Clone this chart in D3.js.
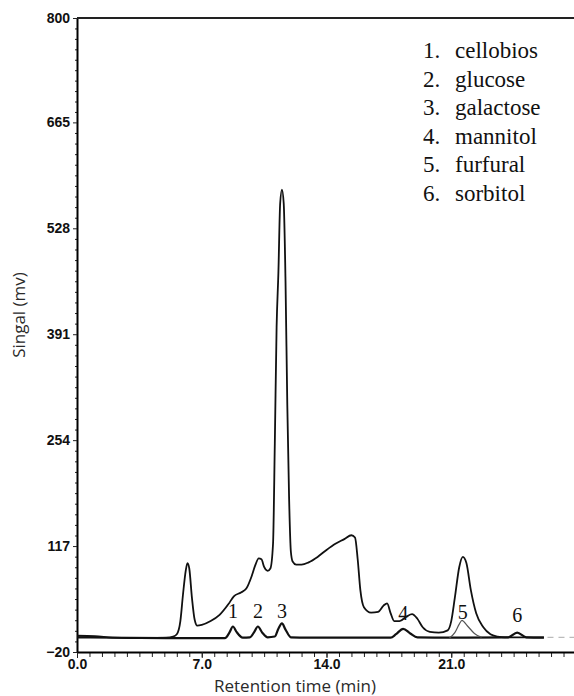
<!DOCTYPE html>
<html>
<head>
<meta charset="utf-8">
<script src="https://cdn.jsdelivr.net/npm/d3@7"></script>
<style>
  body { margin: 0; background: #fff; }
  .axisText { font-family: "Open Sans", Lato, sans-serif; font-size: 17px; fill: #2a2a2a; }
  .legend, .peakLabel { font-family: "Liberation Serif", "Times New Roman", serif; fill: #111; }
</style>
</head>
<body>
<div id="chart"></div>
<script>
// Data
// main sample trace: [time (min), signal (mv)]
var sampleTrace = [
  [0.0, 1], [1.0, 0.5], [2.0, -1.5], [3.0, -2], [4.0, -2], [5.0, -1.5], [5.4, 0],
  [5.6, 3], [5.8, 20], [5.95, 55], [6.1, 85], [6.2, 95], [6.3, 88], [6.45, 50],
  [6.6, 22], [6.75, 14], [7.0, 15], [7.5, 20], [8.0, 28], [8.5, 42], [8.8, 52],
  [9.2, 57], [9.5, 62], [9.8, 78], [10.0, 92], [10.2, 101], [10.35, 100], [10.5, 90],
  [10.7, 85], [10.85, 88], [11.0, 120], [11.1, 250], [11.2, 400], [11.3, 470],
  [11.4, 560], [11.5, 578], [11.6, 560], [11.7, 460], [11.8, 300], [11.9, 180],
  [12.0, 110], [12.1, 97], [12.3, 93], [12.6, 93], [13.0, 96], [13.5, 103],
  [14.0, 112], [14.5, 120], [15.0, 126], [15.4, 131], [15.6, 128], [15.75, 100],
  [15.9, 60], [16.1, 38], [16.5, 31], [16.9, 32], [17.2, 40], [17.4, 43], [17.6, 30],
  [17.8, 20], [18.1, 20], [18.5, 26], [18.8, 29], [19.1, 23], [19.4, 12], [19.8, 6],
  [20.3, 5], [20.8, 8], [21.0, 20], [21.2, 50], [21.45, 90], [21.65, 103], [21.85, 95],
  [22.1, 60], [22.4, 30], [22.8, 12], [23.2, 3], [23.6, 0], [24.0, -1], [25.0, -1],
  [26.2, -1]
];

// standards trace (peaks 1-4, 6)
var standardTrace = [
  [0.0, -1], [5.0, -2], [8.3, -2], [8.55, 5], [8.75, 13], [8.95, 6], [9.3, -1.5],
  [9.7, -1], [9.95, 6], [10.15, 13], [10.4, 5], [10.7, -1], [11.1, 0], [11.3, 10],
  [11.5, 17], [11.7, 9], [12.0, -1], [13.0, -1.5], [17.6, -1.5], [17.9, 3], [18.3, 10],
  [18.7, 4], [19.1, -1], [21.0, -1.5], [24.2, -1], [24.7, 5], [25.2, -1], [26.2, -1.5]
];

// furfural standard (thin line, peak 5)
var furfuralTrace = [
  [20.9, -2], [21.2, 5], [21.45, 16], [21.6, 21], [21.9, 14], [22.3, 4], [22.7, -1]
];

var peakNames = ["cellobios", "glucose", "galactose", "mannitol", "furfural", "sorbitol"];
var peakTimes = [8.75, 10.15, 11.5, 18.3, 21.65, 24.7];
var peakLabelValues = [24, 24, 24, 22, 23, 19];

var yTickValues = [-20, 117, 254, 391, 528, 665, 800];
var xTickValues = [0, 7, 14, 21];

// Setup the parameters
var svgWidth = 574;
var svgHeight = 696;
var margin = { top: 18, right: -2, bottom: 44, left: 77 };
var width = svgWidth - margin.left - margin.right;
var height = svgHeight - margin.top - margin.bottom;

var svg = d3.select("#chart")
  .append("svg")
  .attr("width", svgWidth)
  .attr("height", svgHeight);

var chartGroup = svg.append("g")
  .attr("transform", `translate(${margin.left}, ${margin.top})`);

var x = d3.scaleLinear().domain([0, 28]).range([0, width]);
var y = d3.scaleLinear().domain([-20, 800]).range([height, 0]);

// minor ticks: 10 subdivisions between major ticks
var yMinor = [];
for (var i = 0; i < yTickValues.length - 1; i++) {
  var step = (yTickValues[i + 1] - yTickValues[i]) / 10;
  for (var k = 1; k < 10; k++) yMinor.push(yTickValues[i] + k * step);
}
var xMinor = d3.range(0, 28.01, 0.7);

// axes
chartGroup.append("g")
  .attr("transform", `translate(0, ${height})`)
  .call(d3.axisBottom(x).tickValues(xMinor).tickSize(5).tickFormat(""))
  .call(g => g.select(".domain").remove());

var bottomAxis = chartGroup.append("g")
  .attr("transform", `translate(0, ${height})`)
  .call(d3.axisBottom(x).tickValues(xTickValues).tickSize(6).tickSizeOuter(0)
    .tickFormat(d3.format(".1f")));
bottomAxis.select(".domain").attr("stroke-width", 2);
bottomAxis.selectAll(".tick text").attr("y", 7).attr("dy", "0.71em");

chartGroup.append("g")
  .call(d3.axisLeft(y).tickValues(yMinor).tickSize(2).tickFormat(""))
  .call(g => g.select(".domain").remove());

var leftAxis = chartGroup.append("g")
  .call(d3.axisLeft(y).tickValues(yTickValues).tickSize(4).tickSizeOuter(0));
leftAxis.select(".domain").attr("stroke-width", 2);
leftAxis.selectAll(".tick text").attr("x", -7);

chartGroup.selectAll(".tick line").attr("stroke", "#222");
chartGroup.selectAll(".tick text")
  .style("font-family", "'Liberation Sans', Arial, sans-serif")
  .style("font-weight", "bold")
  .style("font-size", "14px")
  .style("fill", "#111");

// top frame line
chartGroup.append("line")
  .attr("x1", 0).attr("x2", width + 2)
  .attr("y1", y(800)).attr("y2", y(800))
  .attr("stroke", "#222").attr("stroke-width", 2);

// traces
var line = d3.line()
  .x(d => x(d[0]))
  .y(d => y(d[1]))
  .curve(d3.curveMonotoneX);

chartGroup.append("path")
  .datum(standardTrace)
  .attr("d", line)
  .attr("fill", "none")
  .attr("stroke", "#111")
  .attr("stroke-width", 2.2);

chartGroup.append("path")
  .datum(furfuralTrace)
  .attr("d", line)
  .attr("fill", "none")
  .attr("stroke", "#555")
  .attr("stroke-width", 1.2);

chartGroup.append("path")
  .datum(sampleTrace)
  .attr("d", line)
  .attr("fill", "none")
  .attr("stroke", "#111")
  .attr("stroke-width", 1.8);

// faint dashed continuation of the baseline
chartGroup.append("line")
  .attr("x1", x(26.4)).attr("x2", x(28))
  .attr("y1", y(-1)).attr("y2", y(-1))
  .attr("stroke", "#aaa").attr("stroke-width", 1)
  .attr("stroke-dasharray", "6,5");

// peak numbers
chartGroup.selectAll(".peakLabel")
  .data(peakTimes)
  .enter()
  .append("text")
  .attr("class", "peakLabel")
  .attr("x", d => x(d))
  .attr("y", (d, i) => y(peakLabelValues[i]))
  .attr("text-anchor", "middle")
  .style("font-size", "20px")
  .text((d, i) => i + 1);

// legend
var legend = chartGroup.selectAll(".legend")
  .data(peakNames)
  .enter()
  .append("g")
  .attr("class", "legend")
  .attr("transform", (d, i) => `translate(${423 - margin.left}, ${58 - margin.top + i * 28.6})`);

legend.append("text")
  .style("font-size", "23px")
  .text((d, i) => (i + 1) + ".");

legend.append("text")
  .attr("x", 32)
  .style("font-size", "23px")
  .text(d => d);

// axis labels
chartGroup.append("text")
  .attr("transform", `translate(${25 - margin.left}, ${315 - margin.top}) rotate(-90)`)
  .attr("text-anchor", "middle")
  .attr("class", "axisText")
  .text("Singal (mv)");

chartGroup.append("text")
  .attr("transform", `translate(${295 - margin.left}, ${692 - margin.top})`)
  .attr("text-anchor", "middle")
  .attr("class", "axisText")
  .text("Retention time (min)");
</script>
</body>
</html>
